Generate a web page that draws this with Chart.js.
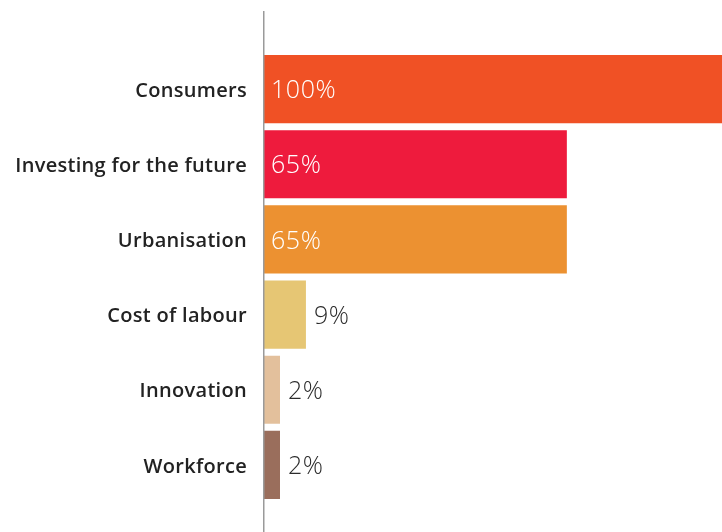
<!DOCTYPE html>
<html>
<head>
<meta charset="utf-8">
<script src="https://cdn.jsdelivr.net/npm/chart.js@4/dist/chart.umd.min.js"></script>
<style>
  html, body { margin: 0; padding: 0; background: #ffffff; }
  #wrap { width: 722px; height: 532px; }
</style>
</head>
<body>
<div id="wrap"><canvas id="c" width="722" height="532"></canvas></div>
<script>
// Drivers and their share of responses (%)
const categories = ['Consumers', 'Investing for the future', 'Urbanisation', 'Cost of labour', 'Innovation', 'Workforce'];
const values = [100, 65, 65, 9, 2, 2];
const barColors = ['#F05125', '#EE1B3D', '#EC9131', '#E6C674', '#E3C09C', '#9A6E5C'];

const AXIS_X = 264;

// Slightly wider tracking for all text drawn on the canvas
const tracking = {
  id: 'tracking',
  beforeDraw(chart) {
    chart.ctx.letterSpacing = '0.3px';
  }
};

// Vertical axis line running the full height of the figure
const axisLine = {
  id: 'axisLine',
  afterDatasetsDraw(chart) {
    const ctx = chart.ctx;
    const x = chart.chartArea.left - 0.25;
    ctx.save();
    ctx.strokeStyle = '#9a9a9a';
    ctx.lineWidth = 1.5;
    ctx.beginPath();
    ctx.moveTo(x, 11);
    ctx.lineTo(x, chart.height);
    ctx.stroke();
    ctx.restore();
  }
};

// Percentage labels: inside long bars in white, after short bars in dark grey
const valueLabels = {
  id: 'valueLabels',
  afterDatasetsDraw(chart) {
    const ctx = chart.ctx;
    const meta = chart.getDatasetMeta(0);
    ctx.save();
    ctx.font = '300 25px "Open Sans", Lato, sans-serif';
    ctx.letterSpacing = '0.6px';
    ctx.textBaseline = 'middle';
    ctx.textAlign = 'left';
    meta.data.forEach((bar, i) => {
      const text = values[i] + '%';
      const w = ctx.measureText(text).width;
      const len = bar.x - bar.base;
      if (len > w + 20) {
        ctx.fillStyle = '#ffffff';
        ctx.fillText(text, bar.base + 7, bar.y + 2);
      } else {
        ctx.fillStyle = '#2b2b2b';
        ctx.fillText(text, bar.x + 8, bar.y + 2);
      }
    });
    ctx.restore();
  }
};

new Chart(document.getElementById('c'), {
  type: 'bar',
  data: {
    labels: categories,
    datasets: [{
      data: values,
      backgroundColor: barColors,
      borderWidth: 0,
      barPercentage: 0.9067,
      categoryPercentage: 1,
      minBarLength: 16
    }]
  },
  options: {
    indexAxis: 'y',
    responsive: false,
    animation: false,
    devicePixelRatio: 1,
    layout: { padding: { top: 51.5, bottom: 29.5, left: 0, right: 0 } },
    plugins: {
      legend: { display: false },
      tooltip: { enabled: false }
    },
    scales: {
      x: {
        display: false,
        min: 0,
        max: 98.3
      },
      y: {
        afterFit(scale) { scale.width = AXIS_X; },
        grid: { display: false, drawTicks: false },
        border: { display: false },
        ticks: {
          padding: 17,
          labelOffset: 2,
          color: '#222222',
          font: { family: '"Open Sans", Lato, sans-serif', size: 20, weight: '600' }
        }
      }
    }
  },
  plugins: [tracking, axisLine, valueLabels]
});
</script>
</body>
</html>
